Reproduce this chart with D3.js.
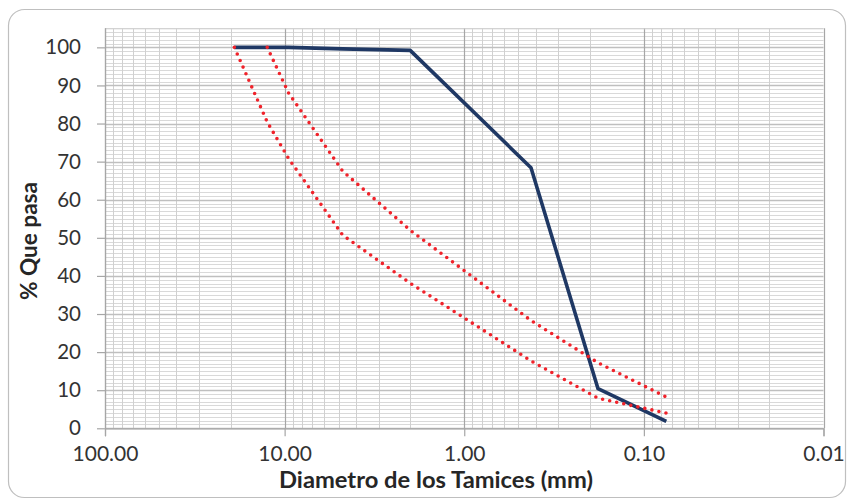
<!DOCTYPE html>
<html>
<head>
<meta charset="utf-8">
<script src="https://cdn.jsdelivr.net/npm/d3@7"></script>
<style>
  html, body { margin: 0; padding: 0; background: #ffffff; }
  svg { display: block; }
  text { font-family: Lato, "Open Sans", sans-serif; }
</style>
</head>
<body>
<svg id="chart" width="847" height="499"></svg>
<script>
// ---- data ----
const sampleSizes   = [19.05, 12.5, 9.5, 4.75, 2.0, 0.425, 0.18, 0.075];
const samplePassing = [100, 100, 100, 99.6, 99.2, 68.4, 10.4, 1.8];

const upperSizes    = [12.5, 9.5, 4.75, 2.0, 0.425, 0.18, 0.075];
const upperPassing  = [100, 88.0, 67.5, 52.0, 28.3, 17.2, 8.2];

const lowerSizes    = [19.05, 12.5, 9.5, 4.75, 2.0, 0.425, 0.18, 0.075];
const lowerPassing  = [100, 80.4, 70.8, 50.7, 38.1, 17.7, 7.9, 4.0];

const xTickValues = [100, 10, 1, 0.1, 0.01];
const yTickValues = [0, 10, 20, 30, 40, 50, 60, 70, 80, 90, 100];
const xTitle = "Diametro de los Tamices (mm)";
const yTitle = "% Que pasa";

// ---- layout ----
const svg = d3.select("#chart");
const pLeft = 105, pRight = 823.5, pTop = 28.3, pBottom = 428.3;

const x = d3.scaleLog().domain([100, 0.01]).range([pLeft, pRight]);
const y = d3.scaleLinear().domain([0, 105]).range([pBottom, pTop]);

// outer chart border
svg.append("rect")
  .attr("x", 8.5).attr("y", 9.5).attr("width", 837).attr("height", 488)
  .attr("rx", 16).attr("ry", 16)
  .attr("fill", "#ffffff").attr("stroke", "#bfbfbf").attr("stroke-width", 1.2);

const grid = svg.append("g");

// minor horizontal gridlines (every 1 %)
grid.selectAll("line.hmin")
  .data(d3.range(0, 106, 1).filter(v => v % 10 !== 0))
  .join("line")
  .attr("x1", pLeft).attr("x2", pRight)
  .attr("y1", d => Math.round(y(d)) + 0.5).attr("y2", d => Math.round(y(d)) + 0.5)
  .attr("stroke", "#d9d9d9").attr("stroke-width", 1);

// minor vertical gridlines (log minor)
const minorX = x.ticks().filter(v => xTickValues.every(t => Math.abs(t - v) / t > 1e-6));
grid.selectAll("line.vmin")
  .data(minorX)
  .join("line")
  .attr("x1", d => Math.round(x(d)) + 0.5).attr("x2", d => Math.round(x(d)) + 0.5)
  .attr("y1", pTop).attr("y2", pBottom)
  .attr("stroke", "#d0d0d0").attr("stroke-width", 1);

// major horizontal gridlines
grid.selectAll("line.hmaj")
  .data(yTickValues)
  .join("line")
  .attr("x1", pLeft).attr("x2", pRight)
  .attr("y1", d => Math.round(y(d)) + 0.5).attr("y2", d => Math.round(y(d)) + 0.5)
  .attr("stroke", "#bfbfbf").attr("stroke-width", 1.5);

// major vertical gridlines
grid.selectAll("line.vmaj")
  .data(xTickValues)
  .join("line")
  .attr("x1", d => Math.round(x(d)) + 0.5).attr("x2", d => Math.round(x(d)) + 0.5)
  .attr("y1", pTop).attr("y2", pBottom)
  .attr("stroke", "#a6a6a6").attr("stroke-width", 1.2);

// top border line of plot
grid.append("line")
  .attr("x1", pLeft).attr("x2", pRight).attr("y1", pTop + 0.5).attr("y2", pTop + 0.5)
  .attr("stroke", "#d0d0d0");

// ---- axes ----
const xAxis = d3.axisBottom(x)
  .tickValues(xTickValues)
  .tickFormat(d3.format(".2f"))
  .tickSize(8).tickPadding(10);
const gx = svg.append("g").attr("transform", `translate(0,${pBottom})`).call(xAxis);
gx.select(".domain").attr("stroke", "#a6a6a6").attr("stroke-width", 1.2);
gx.selectAll(".tick line").attr("stroke", "#a6a6a6").attr("stroke-width", 1.2);
gx.selectAll(".tick text")
  .attr("font-family", "Lato, sans-serif").attr("font-size", "21px").attr("fill", "#333333")
  .attr("dy", "0.71em");

const yAxis = d3.axisLeft(y)
  .tickValues(yTickValues)
  .tickSize(8).tickPadding(16);
const gy = svg.append("g").attr("transform", `translate(${pLeft},0)`).call(yAxis);
gy.select(".domain").attr("stroke", "#a6a6a6").attr("stroke-width", 1.2)
  .attr("d", `M0.5,${pBottom}V${pTop}`);
gy.selectAll(".tick line").attr("stroke", "#a6a6a6").attr("stroke-width", 1.2);
gy.selectAll(".tick text")
  .attr("font-family", "Lato, sans-serif").attr("font-size", "20.5px").attr("fill", "#333333");

// axis titles
svg.append("text")
  .attr("x", 436).attr("y", 488)
  .attr("text-anchor", "middle")
  .attr("font-size", "22.5px").attr("font-weight", "bold").attr("fill", "#262626")
  .attr("textLength", 314).attr("lengthAdjust", "spacingAndGlyphs")
  .text(xTitle);

svg.append("text")
  .attr("transform", "translate(37,241) rotate(-90)")
  .attr("text-anchor", "middle")
  .attr("font-size", "22px").attr("font-weight", "bold").attr("fill", "#262626")
  .attr("textLength", 118).attr("lengthAdjust", "spacingAndGlyphs")
  .text(yTitle);

// ---- series ----
const line = d3.line().x(d => x(d[0])).y(d => y(d[1]));

svg.append("path")
  .datum(d3.zip(sampleSizes, samplePassing))
  .attr("d", line)
  .attr("fill", "none").attr("stroke", "#1f3864").attr("stroke-width", 3.6)
  .attr("stroke-linejoin", "round");

[[upperSizes, upperPassing], [lowerSizes, lowerPassing]].forEach(([s, p]) => {
  svg.append("path")
    .datum(d3.zip(s, p))
    .attr("d", line)
    .attr("fill", "none").attr("stroke", "#f0222a").attr("stroke-width", 3.6)
    .attr("stroke-linecap", "round")
    .attr("stroke-dasharray", "0 7.2");
});
</script>
</body>
</html>
